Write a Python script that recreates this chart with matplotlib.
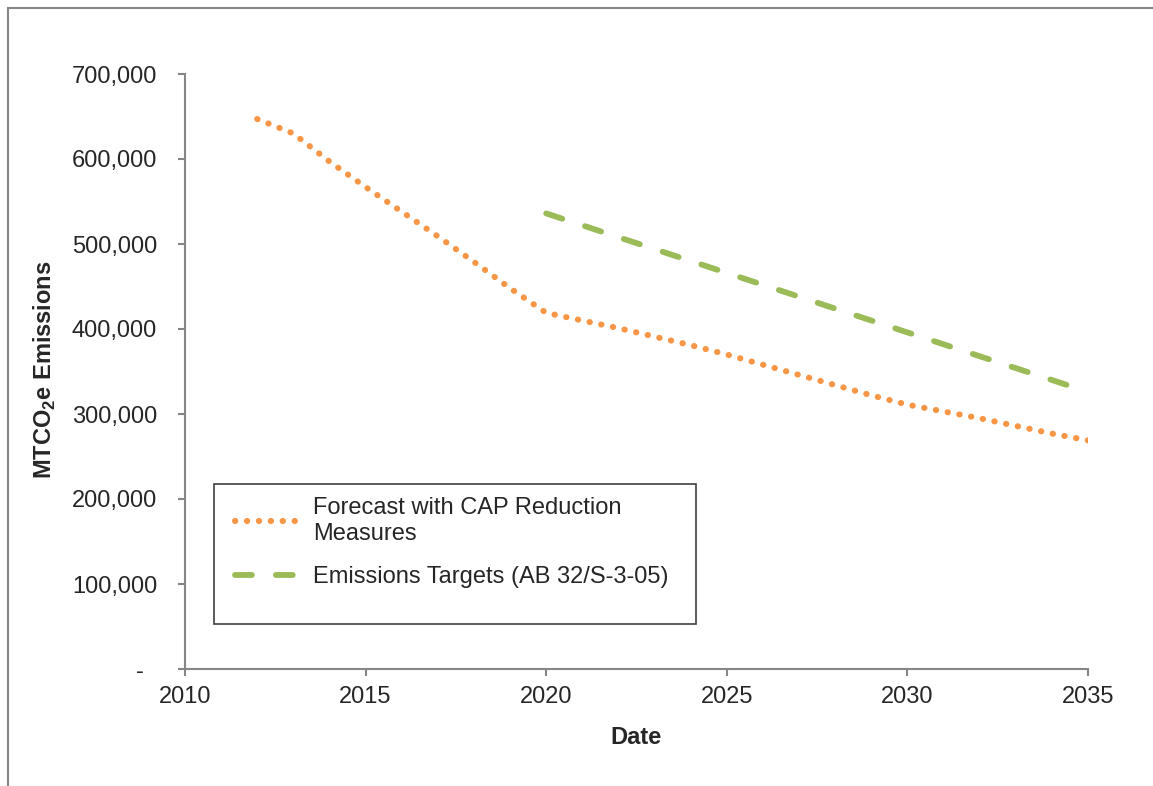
import matplotlib.pyplot as plt
from matplotlib.lines import Line2D
from matplotlib.patches import Rectangle
from matplotlib.ticker import FuncFormatter

plt.rcParams['font.family'] = ['Liberation Sans', 'DejaVu Sans']
plt.rcParams['mathtext.fontset'] = 'custom'
plt.rcParams['mathtext.bf'] = 'Liberation Sans:bold'

# forecast with CAP reduction measures (MTCO2e)
forecast_years = [2012, 2013, 2014, 2015, 2016, 2017, 2018, 2019, 2020, 2021, 2022, 2023,
                  2024, 2025, 2026, 2027, 2028, 2029, 2030, 2031, 2032, 2033, 2034, 2035]
forecast_vals = [647000, 630000, 597000, 567000, 538000, 509000, 479000, 448000, 419000,
                 410000, 401000, 391000, 381000, 370000, 358000, 346000, 334000, 322000,
                 311000, 303000, 295000, 286000, 277000, 269000]

# emissions targets (AB 32 / S-3-05)
target_years = [2020, 2025, 2030, 2035]
target_vals = [536000, 466000, 396000, 326000]

y_ticks = [0, 100000, 200000, 300000, 400000, 500000, 600000, 700000]
x_ticks = [2010, 2015, 2020, 2025, 2030, 2035]

W, H = 1153, 786
fig = plt.figure(figsize=(W / 100, H / 100), dpi=100)
ax = fig.add_axes([185 / W, 1 - 669 / H, (1088 - 185) / W, (669 - 74) / H])

orange = '#F79646'
green = '#9BBB59'
grey = '#868686'

ax.plot(forecast_years, forecast_vals, color=orange, lw=4.4,
        linestyle=(0, (0.05, 1.9)), dash_capstyle='round',
        label='Forecast with CAP Reduction\nMeasures')
ax.plot(target_years, target_vals, color=green, lw=4.2,
        linestyle=(0, (2.9, 4.1)), dash_capstyle='round',
        label='Emissions Targets (AB 32/S-3-05)')

ax.set_xlim(2010, 2035)
ax.set_ylim(0, 700000)
ax.set_xticks(x_ticks)
ax.set_yticks(y_ticks)
ax.yaxis.set_major_formatter(FuncFormatter(lambda v, p: '-  ' if v == 0 else f'{v:,.0f}'))

for s in ['top', 'right']:
    ax.spines[s].set_visible(False)
for s in ['left', 'bottom']:
    ax.spines[s].set_color(grey)
    ax.spines[s].set_linewidth(1.5)

ax.tick_params(axis='both', direction='out', length=5, width=1.5, color=grey,
               labelsize=17, labelcolor='#262626')
ax.tick_params(axis='y', pad=15)
ax.tick_params(axis='x', pad=7)

ax.set_xlabel('Date', fontsize=17, fontweight='bold', color='#262626')
ax.xaxis.set_label_coords(0.5, -0.095)
ax.set_ylabel(r'MTCO$_\mathbf{2}$e Emissions', fontsize=17, fontweight='bold', color='#262626')
ax.yaxis.set_label_coords(-0.141, 0.5025)

# legend without frame, box drawn separately
leg = ax.legend(loc='upper left', bbox_to_anchor=(235 / W, 1 - 497 / H),
                bbox_transform=fig.transFigure, frameon=False, fontsize=17,
                borderaxespad=0, borderpad=0, handlelength=2.7, handletextpad=0.6,
                labelspacing=0.9)
for t in leg.get_texts():
    t.set_color('#262626')
    t.set_linespacing(1.25)
fig.add_artist(Rectangle((214 / W, 1 - 624 / H), (696 - 214) / W, (624 - 484) / H,
                         transform=fig.transFigure, fill=False, edgecolor='#404040', lw=1.2))

# outer frame of the original figure
fig.add_artist(Line2D([7.5 / W, 1], [1 - 7.5 / H, 1 - 7.5 / H], transform=fig.transFigure,
                      color=grey, lw=1.5))
fig.add_artist(Line2D([7.5 / W, 7.5 / W], [0, 1 - 7.5 / H], transform=fig.transFigure,
                      color=grey, lw=1.5))

fig.savefig('out.png', dpi=100)
